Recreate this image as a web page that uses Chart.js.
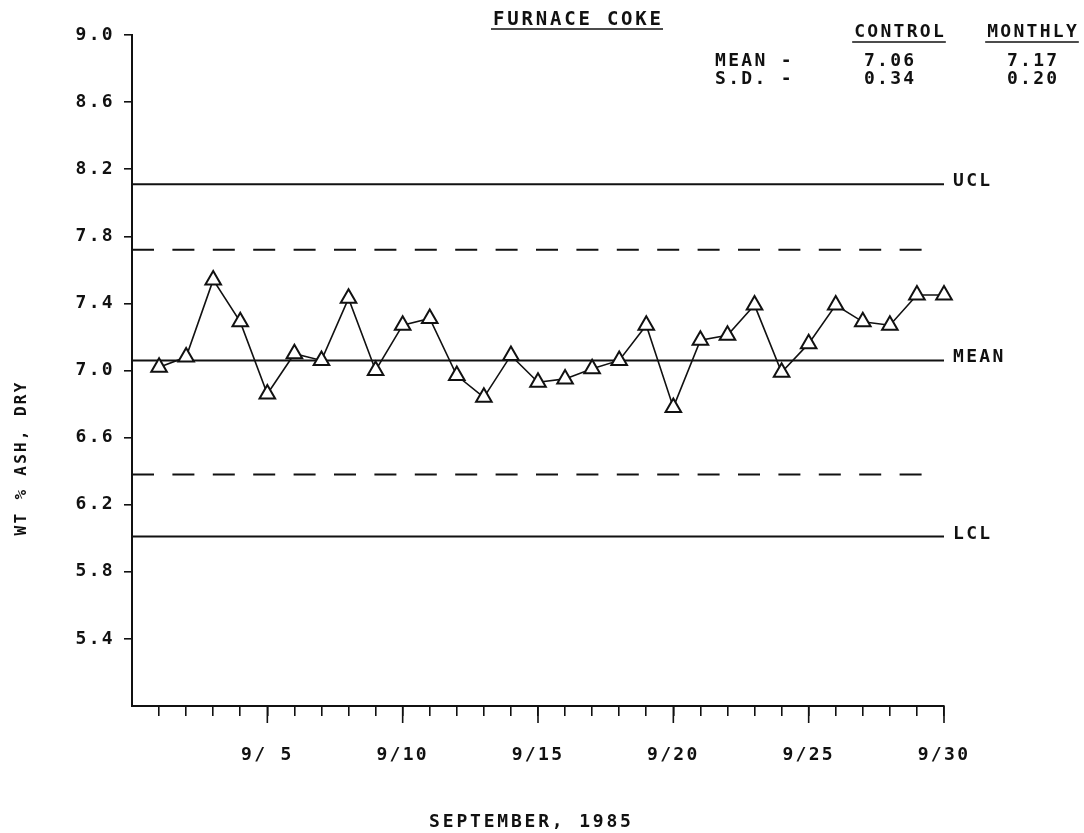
<!DOCTYPE html>
<html><head><meta charset="utf-8">
<script src="https://cdn.jsdelivr.net/npm/chart.js@4.4.1/dist/chart.umd.min.js"></script>
<style>html,body{margin:0;padding:0;background:#fff;}#wrap{width:1084px;height:833px;}</style>
</head><body><div id="wrap"><canvas id="c" width="1084" height="833"></canvas></div>
<script>
// ---- data ----
const days = [1,2,3,4,5,6,7,8,9,10,11,12,13,14,15,16,17,18,19,20,21,22,23,24,25,26,27,28,29,30];
const ashValues = [7.02,7.08,7.54,7.29,6.86,7.10,7.06,7.43,7.00,7.27,7.31,6.97,6.84,7.09,6.93,6.95,7.01,7.06,7.27,6.78,7.18,7.21,7.39,6.99,7.16,7.39,7.29,7.27,7.45,7.45];
const yTickValues = [5.0,5.4,5.8,6.2,6.6,7.0,7.4,7.8,8.2,8.6,9.0];
const xLabelDays = [5,10,15,20,25,30];
const limitNames = ['UCL','UPPER 2SD','MEAN','LOWER 2SD','LCL'];
const limitValues = [8.11,7.72,7.06,6.38,6.01];
const limitDashed = [false,true,false,true,false];
const limitLabels = ['UCL','','MEAN','','LCL'];
const statHeaders = ['CONTROL','MONTHLY'];
const statRowNames = ['MEAN -','S.D. -'];
const controlStats = ['7.06','0.34'];
const monthlyStats = ['7.17','0.20'];
const chartTitle = 'FURNACE COKE';
const xTitle = 'SEPTEMBER, 1985';
const yTitle = 'WT % ASH, DRY';

const INK = '#111';
const FONT = 'DejaVu Sans Mono';
const FW = '600';
const FS = 18, SP = 2.3;

function drawTxt(ctx, text, x, y, align, size, spacing) {
  ctx.save();
  ctx.font = FW + ' ' + size + 'px "' + FONT + '"';
  ctx.letterSpacing = spacing + 'px';
  ctx.fillStyle = INK;
  ctx.textBaseline = 'alphabetic';
  ctx.textAlign = 'left';
  const w = ctx.measureText(text).width - spacing;
  let left = x;
  if (align === 'center') left = x - w / 2;
  else if (align === 'right') left = x - w;
  ctx.fillText(text, left, y);
  ctx.restore();
  return w;
}
function hline(ctx, x1, x2, y, lw) {
  ctx.save(); ctx.strokeStyle = INK; ctx.lineWidth = lw || 1.5;
  ctx.beginPath(); ctx.moveTo(x1, y); ctx.lineTo(x2, y); ctx.stroke(); ctx.restore();
}

const textPlugin = {
  id: 'texts',
  beforeDraw(chart) { chart.ctx.letterSpacing = SP + 'px'; },
  afterDraw(chart) {
    const ctx = chart.ctx;
    const xs = chart.scales.x, ys = chart.scales.y;
    const bottom = chart.chartArea.bottom;
    ctx.save(); ctx.strokeStyle = INK; ctx.lineWidth = 1.6;
    xLabelDays.forEach(d => {
      const px = xs.getPixelForValue(d);
      ctx.beginPath(); ctx.moveTo(px, bottom); ctx.lineTo(px, bottom + 17); ctx.stroke();
    });
    ctx.restore();
    const tw = drawTxt(ctx, chartTitle, 577, 25, 'center', 19, 2.8);
    hline(ctx, 577 - tw / 2 - 2, 577 + tw / 2 + 2, 29, 1.6);
    const colX = [899, 1032];
    statHeaders.forEach((h, i) => {
      const w = drawTxt(ctx, h, colX[i], 37, 'center', FS, SP);
      hline(ctx, colX[i] - w / 2 - 2, colX[i] + w / 2 + 2, 42, 1.6);
    });
    const rowY = [66, 84];
    statRowNames.forEach((r, i) => {
      drawTxt(ctx, r, 715, rowY[i], 'left', FS, SP);
      drawTxt(ctx, controlStats[i], 889, rowY[i], 'center', FS, SP);
      drawTxt(ctx, monthlyStats[i], 1032, rowY[i], 'center', FS, SP);
    });
    limitValues.forEach((v, i) => {
      if (!limitLabels[i]) return;
      drawTxt(ctx, limitLabels[i], 953, ys.getPixelForValue(v) + 2, 'left', FS, SP);
    });
    drawTxt(ctx, xTitle, 530, 827, 'center', FS, 2.8);
    ctx.save();
    ctx.translate(26, 459);
    ctx.rotate(-Math.PI / 2);
    drawTxt(ctx, yTitle, 0, 0, 'center', 16, 2.3);
    ctx.restore();
  }
};

const limitDatasets = limitValues.map((v, i) => ({
  label: limitNames[i],
  data: [{x: 0, y: v}, {x: limitDashed[i] ? 29.4 : 30, y: v}],
  borderColor: INK,
  borderWidth: 2,
  borderDash: limitDashed[i] ? [22, 18.4] : [],
  pointRadius: 0,
  order: 2,
  clip: false
}));

new Chart(document.getElementById('c'), {
  type: 'line',
  data: {
    datasets: [{
      label: 'WT % ASH, DRY',
      data: days.map((d, i) => ({x: d, y: ashValues[i]})),
      borderColor: INK,
      borderWidth: 1.6,
      tension: 0,
      pointStyle: 'triangle',
      pointRadius: 9,
      pointBorderWidth: 2,
      pointBackgroundColor: '#fff',
      pointBorderColor: INK,
      order: 0,
      clip: false
    }].concat(limitDatasets)
  },
  options: {
    responsive: false,
    animation: false,
    devicePixelRatio: 1,
    layout: {padding: {top: 35, right: 140, bottom: 0, left: 0}},
    plugins: {legend: {display: false}, tooltip: {enabled: false}, title: {display: false}},
    scales: {
      x: {
        type: 'linear', min: 0, max: 30,
        afterBuildTicks: s => { s.ticks = days.map(v => ({value: v})); },
        afterFit: s => { s.height = 127; },
        ticks: {
          autoSkip: false, maxRotation: 0, minRotation: 0, padding: 29,
          color: INK, font: {family: FONT, size: FS, weight: FW},
          callback: v => xLabelDays.includes(v) ? '9/' + (v < 10 ? ' ' + v : v) : ''
        },
        grid: {drawOnChartArea: false, drawTicks: true, tickLength: 10, color: INK, lineWidth: 1.6},
        border: {display: true, color: INK, width: 2}
      },
      y: {
        type: 'linear', min: 5, max: 9,
        afterBuildTicks: s => { s.ticks = yTickValues.map(v => ({value: v})); },
        afterFit: s => { s.width = 132; },
        ticks: {
          padding: 9, color: INK, font: {family: FONT, size: FS, weight: FW},
          callback: v => v === 5 ? '' : v.toFixed(1)
        },
        grid: {
          drawOnChartArea: false, drawTicks: true, tickLength: 8, lineWidth: 1.6,
          color: c => (c.tick && c.tick.value === 5) ? 'rgba(0,0,0,0)' : INK
        },
        border: {display: true, color: INK, width: 2}
      }
    }
  },
  plugins: [textPlugin]
});
</script>
</body></html>
